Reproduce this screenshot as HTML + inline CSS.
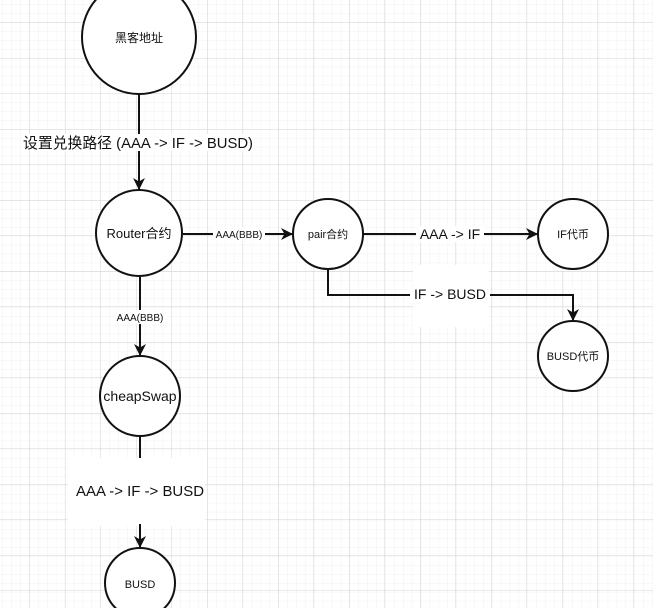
<!DOCTYPE html>
<html><head><meta charset="utf-8"><style>
html,body{margin:0;padding:0;background:#fff}
svg{display:block}
text{font-family:"Liberation Sans","Noto Sans CJK SC",sans-serif;fill:#111}
</style></head><body>
<svg width="653" height="608" viewBox="0 0 653 608" xmlns="http://www.w3.org/2000/svg">
<defs>
<pattern id="minor" x="3" y="5" width="8.9" height="8.9" patternUnits="userSpaceOnUse">
<path d="M8.9 0V8.9M0 8.9H8.9" stroke="#f1f1f1" stroke-width="1" fill="none"/></pattern>
<pattern id="major" x="-5.5" y="-12.5" width="35.5" height="35.5" patternUnits="userSpaceOnUse">
<path d="M35.5 0V35.5M0 35.5H35.5" stroke="#d4d4d4" stroke-width="1" fill="none"/></pattern>
<marker id="ar" markerWidth="12" markerHeight="12" refX="11" refY="6" orient="auto" markerUnits="userSpaceOnUse">
<path d="M0 0L12 6L0 12L3.5 6Z" fill="#111"/></marker>
</defs>
<rect width="653" height="608" fill="url(#minor)"/>
<rect width="653" height="608" fill="url(#major)"/>
<rect x="413" y="265" width="76" height="62" fill="#fff"/>
<rect x="68" y="458" width="137" height="68" fill="#fff"/>
<g stroke="#111" stroke-width="2" fill="none">
<line x1="139" y1="94" x2="139" y2="189" marker-end="url(#ar)"/>
<line x1="183" y1="234" x2="292" y2="234" marker-end="url(#ar)"/>
<line x1="363" y1="234" x2="537" y2="234" marker-end="url(#ar)"/>
<polyline points="328,268 328,295 573,295 573,320" marker-end="url(#ar)"/>
<line x1="140" y1="277" x2="140" y2="355" marker-end="url(#ar)"/>
<line x1="140" y1="436" x2="140" y2="458"/>
<line x1="140" y1="524" x2="140" y2="547" marker-end="url(#ar)"/>
</g>
<g stroke="#111" stroke-width="2" fill="#fff">
<circle cx="139" cy="37" r="57"/>
<circle cx="139" cy="233" r="43"/>
<circle cx="328" cy="234" r="35"/>
<circle cx="573" cy="234" r="35"/>
<circle cx="573" cy="356" r="35"/>
<circle cx="140" cy="396" r="40"/>
<circle cx="140" cy="583" r="35"/>
</g>
<rect x="213" y="227" width="52" height="14" fill="#fff"/>
<rect x="416" y="226" width="68" height="16" fill="#fff"/>
<rect x="410" y="287" width="80" height="16" fill="#fff"/>
<rect x="113" y="310" width="54" height="14" fill="#fff"/>
<rect x="22" y="134" width="232" height="17" fill="#fff"/>
<g text-anchor="middle">
<text x="138" y="148" font-size="15" textLength="230" lengthAdjust="spacingAndGlyphs">设置兑换路径 (AAA -&gt; IF -&gt; BUSD)</text>
<text x="139" y="42" font-size="12">黑客地址</text>
<text x="139" y="238" font-size="13">Router合约</text>
<text x="239" y="238" font-size="10">AAA(BBB)</text>
<text x="328" y="238" font-size="11">pair合约</text>
<text x="450" y="239" font-size="14">AAA -&gt; IF</text>
<text x="573" y="238" font-size="11">IF代币</text>
<text x="450" y="299" font-size="14">IF -&gt; BUSD</text>
<text x="573" y="360" font-size="11">BUSD代币</text>
<text x="140" y="321" font-size="10">AAA(BBB)</text>
<text x="140" y="401" font-size="14">cheapSwap</text>
<text x="140" y="496" font-size="15" textLength="128" lengthAdjust="spacingAndGlyphs">AAA -&gt; IF -&gt; BUSD</text>
<text x="140" y="588" font-size="11">BUSD</text>
</g>
</svg>
</body></html>
